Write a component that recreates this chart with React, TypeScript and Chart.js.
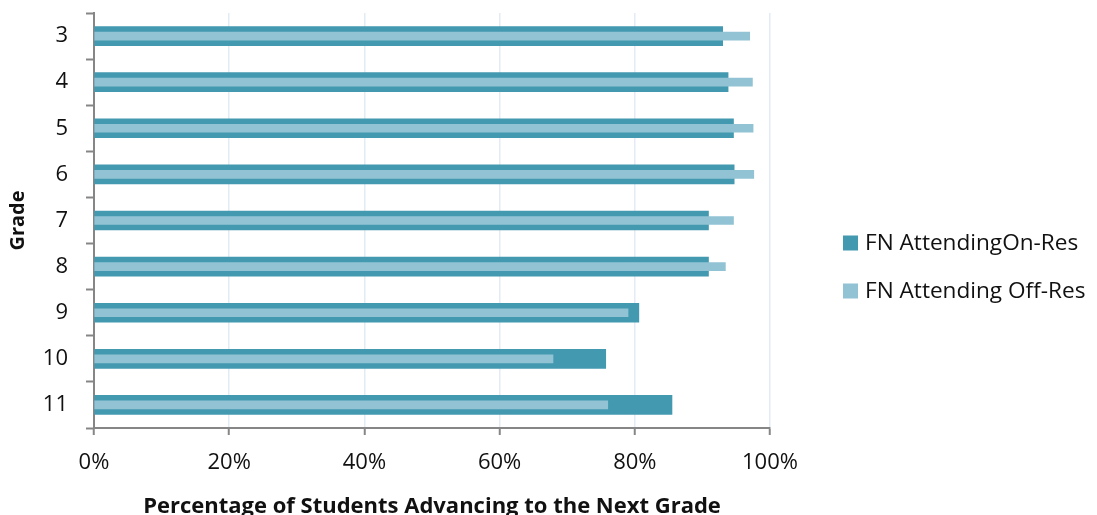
import React, { useEffect, useRef } from "react";
import { Chart, registerables } from "chart.js";

Chart.register(...registerables);

const FONT = "'Open Sans', 'Noto Sans', sans-serif";

const grades = ["3", "4", "5", "6", "7", "8", "9", "10", "11"];
const onResValues = [93.0, 93.8, 94.6, 94.7, 90.9, 90.9, 80.6, 75.7, 85.5];
const offResValues = [97.0, 97.4, 97.5, 97.6, 94.6, 93.4, 79.0, 67.9, 76.0];
const seriesNames = ["FN AttendingOn-Res", "FN Attending Off-Res"];
const seriesColors = ["#4399b0", "#92c3d4"];
const xTitle = "Percentage of Students Advancing to the Next Grade";
const yTitle = "Grade";

const AXIS = "#868686";
const GRID = "#e3ebf5";

const sideLegend = {
  id: "sideLegend",
  afterDraw(chart: any) {
    const ctx = chart.ctx;
    const area = chart.chartArea;
    ctx.save();
    ctx.font = `22.6px ${FONT}`;
    ctx.textBaseline = "middle";
    ctx.textAlign = "left";
    chart.data.datasets.forEach((ds: any, i: number) => {
      const y = area.top + 230 + i * 48;
      const x = area.right + 73;
      ctx.fillStyle = ds.backgroundColor;
      ctx.fillRect(x, y - 7.5, 15, 15);
      ctx.fillStyle = "#111111";
      ctx.fillText(ds.label, x + 22, y + 1);
    });
    ctx.restore();
  },
};

export default function App() {
  const ref = useRef<HTMLCanvasElement | null>(null);

  useEffect(() => {
    if (!ref.current) return;
    const chart = new Chart(ref.current, {
      type: "bar",
      data: {
        labels: grades,
        datasets: [
          {
            label: seriesNames[0],
            data: onResValues,
            backgroundColor: seriesColors[0],
            barThickness: 19,
            grouped: false,
            order: 1,
          },
          {
            label: seriesNames[1],
            data: offResValues,
            backgroundColor: seriesColors[1],
            barThickness: 8,
            grouped: false,
            order: 0,
          },
        ],
      },
      options: {
        indexAxis: "y",
        animation: false,
        responsive: true,
        maintainAspectRatio: false,
        layout: { padding: { top: 5, right: 319, bottom: 0, left: 0 } },
        plugins: {
          legend: { display: false },
          tooltip: { enabled: false },
        },
        scales: {
          x: {
            min: 0,
            max: 100,
            ticks: {
              stepSize: 20,
              callback: (v: any) => `${v}%`,
              color: "#111111",
              font: { size: 22, family: FONT },
              padding: 15,
            },
            grid: {
              color: GRID,
              lineWidth: 1.5,
              tickColor: AXIS,
              tickLength: 7,
              tickWidth: 2,
            },
            border: { color: AXIS, width: 2 },
            title: {
              display: true,
              text: xTitle,
              color: "#111111",
              font: { size: 22, weight: "bold", family: FONT, lineHeight: 1.0 },
              padding: { top: 0, bottom: -3 },
            },
            afterFit: (s: any) => {
              s.height = 87;
            },
          },
          y: {
            ticks: {
              color: "#111111",
              font: { size: 22, family: FONT },
              padding: 18,
            },
            grid: {
              display: true,
              drawOnChartArea: false,
              drawTicks: true,
              offset: true,
              tickLength: 8,
              tickColor: AXIS,
              tickWidth: 2,
            },
            border: { color: AXIS, width: 2 },
            title: {
              display: true,
              text: yTitle,
              color: "#111111",
              font: { size: 20, weight: "bold", family: FONT, lineHeight: 1.0 },
              padding: { top: 0, bottom: 0 },
            },
            afterFit: (s: any) => {
              s.width = 86;
              s.paddingTop = 0;
              s.paddingBottom = 0;
            },
          },
        },
      },
      plugins: [sideLegend],
    } as any);
    return () => chart.destroy();
  }, []);

  return (
    <div style={{ width: 1081, height: 507, position: "relative" }}>
      <canvas ref={ref} />
    </div>
  );
}
